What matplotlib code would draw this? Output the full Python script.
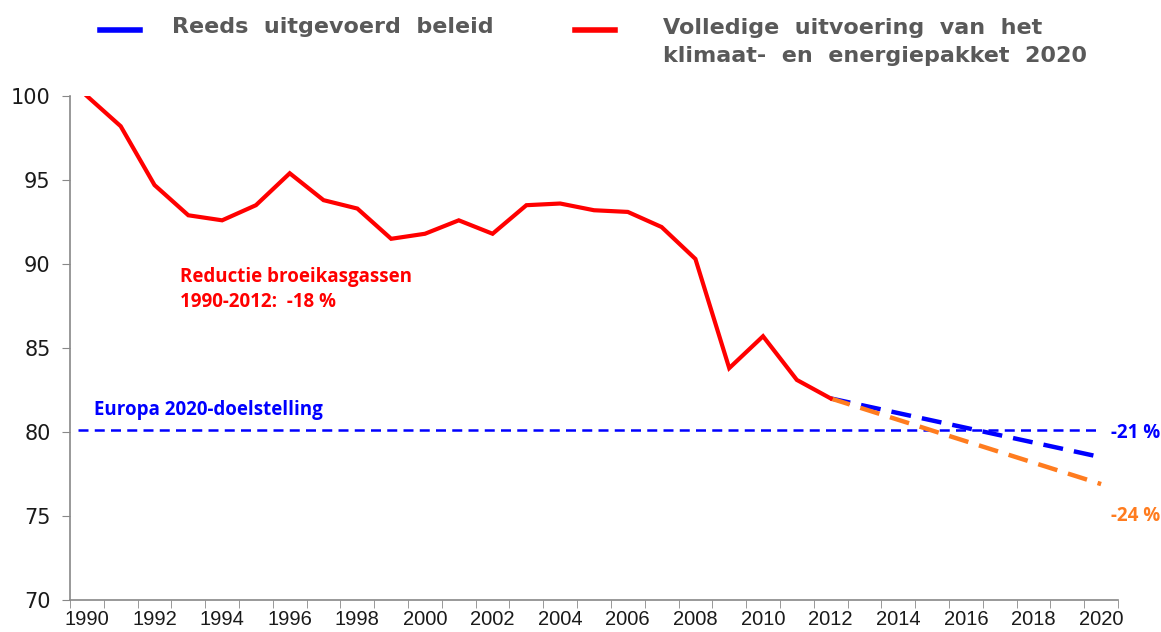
import matplotlib
matplotlib.use("Agg")
import matplotlib.pyplot as plt
from matplotlib.lines import Line2D

# historical emissions index (1990 = 100)
years = list(range(1990, 2013))
emissions = [100.0, 98.2, 94.7, 92.9, 92.6, 93.5, 95.4, 93.8, 93.3, 91.5, 91.8,
             92.6, 91.8, 93.5, 93.6, 93.2, 93.1, 92.2, 90.3, 83.8, 85.7, 83.1, 82.0]

# projections 2012 -> 2020
proj_years = [2012, 2020]
proj_current = [82.0, 78.5]     # reeds uitgevoerd beleid
proj_full = [82.0, 76.9]        # volledige uitvoering pakket
target = 80.1                   # Europa 2020-doelstelling

xlabels = [str(y) for y in range(1990, 2021, 2)]
yticks = [70, 75, 80, 85, 90, 95, 100]

RED = "#ff0000"
BLUE = "#0000ff"
ORANGE = "#ff7c1f"
GREY = "#595959"
legend_font = ["DejaVu Sans"]
annot = ["Open Sans", "DejaVu Sans"]

fig = plt.figure(figsize=(11.61, 6.32), dpi=100)
ax = fig.add_axes([70 / 1161, 32 / 632, 1048 / 1161, 504 / 632])

ax.hlines(target, years[0] - 0.25, 2019.85, colors=BLUE, lw=1.8,
          linestyles=(0, (4, 2.5)))
ax.plot(proj_years, proj_current, color=BLUE, lw=3.2, dashes=(4.5, 2.5))
ax.plot(proj_years, proj_full, color=ORANGE, lw=3.2, dashes=(4.5, 2.5))
ax.plot(years, emissions, color=RED, lw=3, solid_joinstyle="miter")

ax.set_xlim(1989.5, 2020.5)
ax.set_ylim(70, 100)
ax.set_yticks(yticks)
ax.set_xticks(range(1990, 2021, 2))
ax.set_xticklabels(xlabels, family="Liberation Sans", fontsize=14.5,
                   color="#1a1a1a")
ax.set_xticks([y + 0.5 for y in range(1989, 2021)], minor=True)
ax.tick_params(axis="x", which="major", length=0, pad=7)
ax.tick_params(axis="x", which="minor", length=6, color="#888888")
ax.tick_params(axis="y", length=6, color="#888888", labelsize=15,
               labelcolor="#1a1a1a", pad=8)
for s in ["top", "right"]:
    ax.spines[s].set_visible(False)
for s in ["left", "bottom"]:
    ax.spines[s].set_color("#888888")
    ax.spines[s].set_linewidth(1.2)

ax.text(1992.75, 88.5, "Reductie broeikasgassen\n1990-2012:  -18 %", color=RED,
        family=annot, fontweight="bold", fontsize=13.5, va="center",
        linespacing=1.35)
ax.text(1990.2, 81.3, "Europa 2020-doelstelling", color=BLUE, family=annot,
        fontweight="bold", fontsize=13.5, va="center")
ax.text(2020.3, 79.95, "-21 %", color=BLUE, family=annot, fontweight="bold",
        fontsize=13.5, va="center")
ax.text(2020.3, 75.0, "-24 %", color=ORANGE, family=annot, fontweight="bold",
        fontsize=13.5, va="center")

# legend drawn by hand at the top
fig.add_artist(Line2D([100 / 1161, 140 / 1161], [1 - 30 / 632] * 2, color=BLUE, lw=4))
fig.add_artist(Line2D([575 / 1161, 615 / 1161], [1 - 30 / 632] * 2, color=RED, lw=4))
fig.text(172 / 1161, 1 - 27 / 632, "Reeds  uitgevoerd  beleid", family=legend_font,
         fontweight="bold", fontsize=16, color=GREY, va="center")
fig.text(663 / 1161, 1 - 42 / 632, "Volledige  uitvoering  van  het\nklimaat-  en  energiepakket  2020",
         family=legend_font, fontweight="bold", fontsize=16, color=GREY, va="center",
         linespacing=1.45)

fig.savefig("out.png", dpi=100)
